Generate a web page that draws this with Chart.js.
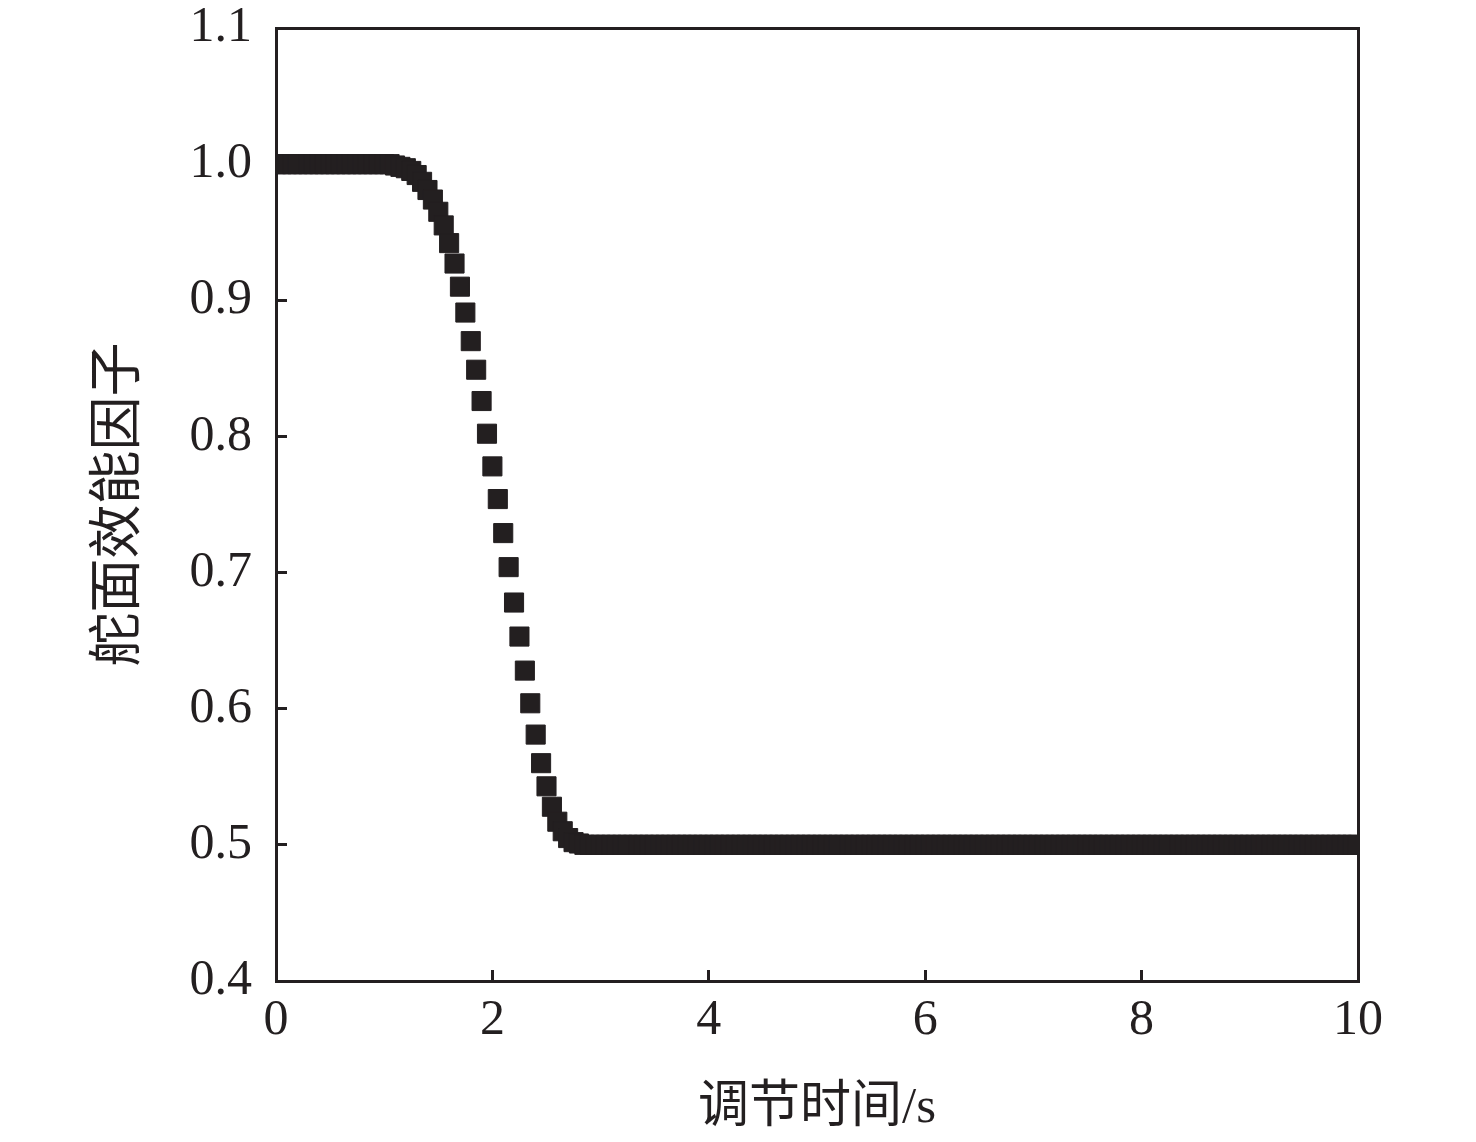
<!DOCTYPE html>
<html>
<head>
<meta charset="utf-8">
<script src="https://cdn.jsdelivr.net/npm/chart.js@4.4.1/dist/chart.umd.min.js"></script>
<style>
  html, body { margin: 0; padding: 0; background: #fff; }
  #wrap { width: 1476px; height: 1142px; }
</style>
</head>
<body>
<div id="wrap"><canvas id="chart" width="1476" height="1142"></canvas></div>
<script>
// 调节时间 (s), sampled every 0.05 s
const time = [
  0,0.05,0.1,0.15,0.2,0.25,0.3,0.35,0.4,0.45,0.5,0.55,0.6,0.65,0.7,0.75,0.8,0.85,0.9,0.95,
  1,1.05,1.1,1.15,1.2,1.25,1.3,1.35,1.4,1.45,1.5,1.55,1.6,1.65,1.7,1.75,1.8,1.85,1.9,1.95,
  2,2.05,2.1,2.15,2.2,2.25,2.3,2.35,2.4,2.45,2.5,2.55,2.6,2.65,2.7,2.75,2.8,2.85,2.9,2.95,
  3,3.05,3.1,3.15,3.2,3.25,3.3,3.35,3.4,3.45,3.5,3.55,3.6,3.65,3.7,3.75,3.8,3.85,3.9,3.95,
  4,4.05,4.1,4.15,4.2,4.25,4.3,4.35,4.4,4.45,4.5,4.55,4.6,4.65,4.7,4.75,4.8,4.85,4.9,4.95,
  5,5.05,5.1,5.15,5.2,5.25,5.3,5.35,5.4,5.45,5.5,5.55,5.6,5.65,5.7,5.75,5.8,5.85,5.9,5.95,
  6,6.05,6.1,6.15,6.2,6.25,6.3,6.35,6.4,6.45,6.5,6.55,6.6,6.65,6.7,6.75,6.8,6.85,6.9,6.95,
  7,7.05,7.1,7.15,7.2,7.25,7.3,7.35,7.4,7.45,7.5,7.55,7.6,7.65,7.7,7.75,7.8,7.85,7.9,7.95,
  8,8.05,8.1,8.15,8.2,8.25,8.3,8.35,8.4,8.45,8.5,8.55,8.6,8.65,8.7,8.75,8.8,8.85,8.9,8.95,
  9,9.05,9.1,9.15,9.2,9.25,9.3,9.35,9.4,9.45,9.5,9.55,9.6,9.65,9.7,9.75,9.8,9.85,9.9,9.95,
  10
];

// 舵面效能因子
const factor = [
  1,1,1,1,1,1,1,1,1,1,1,1,1,1,1,1,1,1,1,1,
  1,1,0.999,0.998,0.997,0.995,0.992,0.987,0.981,0.974,0.965,0.955,0.942,0.927,0.910,0.891,0.870,0.849,0.826,0.802,
  0.778,0.754,0.729,0.704,0.678,0.653,0.628,0.604,0.581,0.560,0.543,0.528,0.517,0.510,0.505,0.502,0.501,0.5,0.5,0.5,
  0.5,0.5,0.5,0.5,0.5,0.5,0.5,0.5,0.5,0.5,0.5,0.5,0.5,0.5,0.5,0.5,0.5,0.5,0.5,0.5,
  0.5,0.5,0.5,0.5,0.5,0.5,0.5,0.5,0.5,0.5,0.5,0.5,0.5,0.5,0.5,0.5,0.5,0.5,0.5,0.5,
  0.5,0.5,0.5,0.5,0.5,0.5,0.5,0.5,0.5,0.5,0.5,0.5,0.5,0.5,0.5,0.5,0.5,0.5,0.5,0.5,
  0.5,0.5,0.5,0.5,0.5,0.5,0.5,0.5,0.5,0.5,0.5,0.5,0.5,0.5,0.5,0.5,0.5,0.5,0.5,0.5,
  0.5,0.5,0.5,0.5,0.5,0.5,0.5,0.5,0.5,0.5,0.5,0.5,0.5,0.5,0.5,0.5,0.5,0.5,0.5,0.5,
  0.5,0.5,0.5,0.5,0.5,0.5,0.5,0.5,0.5,0.5,0.5,0.5,0.5,0.5,0.5,0.5,0.5,0.5,0.5,0.5,
  0.5,0.5,0.5,0.5,0.5,0.5,0.5,0.5,0.5,0.5,0.5,0.5,0.5,0.5,0.5,0.5,0.5,0.5,0.5,0.5,
  0.5
];

const xTicks = [0, 2, 4, 6, 8, 10];
const yTicks = [0.4, 0.5, 0.6, 0.7, 0.8, 0.9, 1.0, 1.1];

const ink = '#231f20';
const serif = "'Liberation Serif', 'Times New Roman', 'Noto Sans CJK SC', serif";

const points = time.map((t, i) => ({ x: t, y: factor[i] }));

const frame = { display: true, color: ink, width: 3 };
const inwardTicks = {
  drawOnChartArea: false,
  drawTicks: true,
  tickLength: -11,
  color: ink,
  lineWidth: 3
};

// keep the label overhang from pushing the plot area around
function noPad(s) {
  s.paddingTop = 0;
  s.paddingBottom = 0;
  s.paddingLeft = 0;
  s.paddingRight = 0;
}

new Chart(document.getElementById('chart').getContext('2d'), {
  type: 'scatter',
  data: {
    datasets: [{
      label: '舵面效能因子',
      data: points,
      pointStyle: 'rect',
      pointRadius: 13.5,
      pointHoverRadius: 13.5,
      pointBorderWidth: 1,
      backgroundColor: ink,
      borderColor: ink,
      showLine: false,
      clip: 0
    }]
  },
  options: {
    responsive: false,
    animation: false,
    devicePixelRatio: 1,
    layout: { padding: { top: 28, right: 118, left: 0, bottom: 0 } },
    plugins: {
      legend: { display: false },
      tooltip: { enabled: false }
    },
    scales: {
      x: {
        type: 'linear',
        position: 'bottom',
        min: 0,
        max: 10,
        afterBuildTicks: s => { s.ticks = xTicks.map(v => ({ value: v })); },
        afterFit: s => { s.height = 161; noPad(s); },
        border: frame,
        grid: inwardTicks,
        ticks: {
          color: ink,
          padding: 21,
          maxRotation: 0,
          font: { family: serif, size: 50 },
          callback: v => String(v)
        },
        title: {
          display: true,
          text: '调节时间/s',
          color: ink,
          font: { family: serif, size: 51 },
          padding: { top: 0, bottom: 3 }
        }
      },
      y: {
        type: 'linear',
        position: 'left',
        min: 0.4,
        max: 1.1,
        afterBuildTicks: s => { s.ticks = yTicks.map(v => ({ value: v })); },
        afterFit: s => { s.width = 276; noPad(s); },
        border: frame,
        grid: inwardTicks,
        ticks: {
          color: ink,
          padding: 35,
          font: { family: serif, size: 50 },
          callback: v => Number(v).toFixed(1)
        },
        title: {
          display: true,
          text: '舵面效能因子',
          color: ink,
          font: { family: serif, size: 54 },
          padding: { top: 88, bottom: 0 }
        }
      },
      x2: {
        type: 'linear',
        position: 'top',
        min: 0,
        max: 10,
        afterFit: s => { s.height = 0; noPad(s); },
        border: frame,
        grid: { display: false },
        ticks: { display: false }
      },
      y2: {
        type: 'linear',
        position: 'right',
        min: 0.4,
        max: 1.1,
        afterFit: s => { s.width = 0; noPad(s); },
        border: frame,
        grid: { display: false },
        ticks: { display: false }
      }
    }
  }
});
</script>
</body>
</html>
